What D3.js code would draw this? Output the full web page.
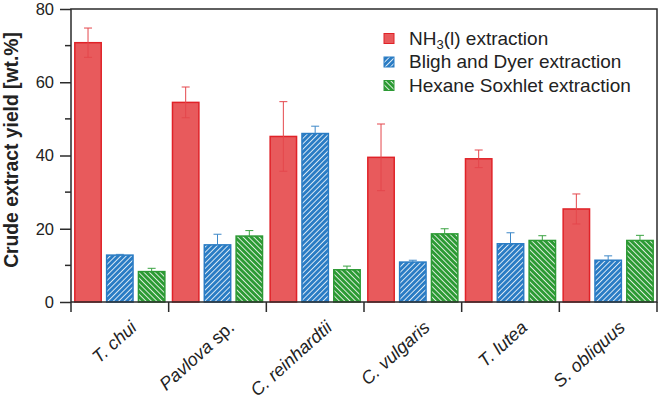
<!DOCTYPE html>
<html>
<head>
<meta charset="utf-8">
<script src="https://cdn.jsdelivr.net/npm/d3@7"></script>
<style>
  body { margin: 0; background: #fff; }
  svg { font-family: "Liberation Sans", Arial, sans-serif; }
</style>
</head>
<body>
<div id="content"></div>
<script>
// species, with the italic part and the plain suffix
const species = ["T. chui", "Pavlova", "C. reinhardtii", "C. vulgaris", "T. lutea", "S. obliquus"];
const speciesSuffix = ["", " sp.", "", "", "", ""];
const methods = ["nh3", "bd", "hex"];

const nh3Vals = [70.8, 54.5, 45.2, 39.5, 39.1, 25.4];
const nh3Err  = [4.0, 4.2, 9.5, 9.1, 2.4, 4.1];
const bdVals  = [12.8, 15.6, 46.0, 10.9, 15.9, 11.4];
const bdErr   = [0.2, 2.9, 2.0, 0.5, 3.0, 1.2];
const hexVals = [8.3, 18.0, 8.8, 18.6, 16.8, 16.8];
const hexErr  = [0.9, 1.5, 1.0, 1.4, 1.3, 1.4];

const yTicks = [0, 20, 40, 60, 80];
const yMinor = [10, 30, 50, 70];

const W = 661, H = 403;
const m = {left: 71, right: 4, top: 9, bottom: 101};

const svg = d3.select("#content").append("svg")
    .attr("width", W).attr("height", H);

const defs = svg.append("defs");
function hatch(id, color, dir){
    const s = 3.8;
    const p = defs.append("pattern")
        .attr("id", id)
        .attr("patternUnits", "userSpaceOnUse")
        .attr("width", s).attr("height", s)
        .attr("patternTransform", "rotate(" + (dir > 0 ? 45 : -45) + ")");
    p.append("rect").attr("width", s).attr("height", s).attr("fill", color);
    p.append("line").attr("x1", 0).attr("y1", 0).attr("x2", 0).attr("y2", s)
        .attr("stroke", "#fff").attr("stroke-width", 1.6);
}
hatch("hbd", "#2a7cc4", 1);
hatch("hhex", "#2c9a34", -1);

const style = {
    nh3: {fill: "#e85a5c", stroke: "#e02228", err: "#e4474c"},
    bd:  {fill: "url(#hbd)", stroke: "#2a7cc4", err: "#3d88c8"},
    hex: {fill: "url(#hhex)", stroke: "#2c9a34", err: "#3aa342"}
};

const x0 = d3.scaleBand().domain(d3.range(species.length))
    .range([m.left, W - m.right]).paddingInner(0).paddingOuter(0);
const x1 = d3.scaleBand().domain(methods)
    .range([0, x0.bandwidth()]).paddingInner(0.17).paddingOuter(0.12);
const y = d3.scaleLinear().domain([0, 80]).range([H - m.bottom, m.top]);

const rows = [];
species.forEach((s, i) => {
    rows.push({i, k: "nh3", v: nh3Vals[i], e: nh3Err[i]});
    rows.push({i, k: "bd", v: bdVals[i], e: bdErr[i]});
    rows.push({i, k: "hex", v: hexVals[i], e: hexErr[i]});
});

// bars
svg.selectAll(".bar").data(rows).enter().append("rect")
    .attr("class", "bar")
    .attr("x", d => x0(d.i) + x1(d.k))
    .attr("width", x1.bandwidth())
    .attr("y", d => y(d.v))
    .attr("height", d => y(0) - y(d.v))
    .attr("fill", d => style[d.k].fill)
    .attr("stroke", d => style[d.k].stroke)
    .attr("stroke-width", 1.5);

// error bars (hatched bars only show the upper half)
const eb = svg.selectAll(".err").data(rows).enter().append("g")
    .attr("class", "err")
    .attr("stroke", d => style[d.k].err)
    .attr("stroke-width", 1)
    .attr("transform", d => "translate(" + (x0(d.i) + x1(d.k) + x1.bandwidth() / 2) + ",0)");
eb.append("line")
    .attr("y1", d => y(d.v + d.e))
    .attr("y2", d => d.k === "nh3" ? y(d.v - d.e) : y(d.v));
eb.append("line").attr("x1", -4).attr("x2", 4)
    .attr("y1", d => y(d.v + d.e)).attr("y2", d => y(d.v + d.e));
eb.filter(d => d.k === "nh3").append("line").attr("x1", -4).attr("x2", 4)
    .attr("y1", d => y(d.v - d.e)).attr("y2", d => y(d.v - d.e));

// frame
const ax = "#2b2b2b";
svg.append("rect")
    .attr("x", m.left).attr("y", m.top)
    .attr("width", W - m.right - m.left).attr("height", y(0) - m.top)
    .attr("fill", "none").attr("stroke", ax).attr("stroke-width", 1.5);

// y axis
const yAxis = svg.append("g").attr("transform", "translate(" + m.left + ",0)")
    .call(d3.axisLeft(y).tickValues(yTicks).tickSize(11).tickPadding(6));
yAxis.select(".domain").remove();
yAxis.selectAll(".tick line").attr("stroke", ax).attr("stroke-width", 1.5);
yAxis.selectAll(".tick text").attr("font-size", 16.5).attr("fill", "#222")
    .attr("font-family", "Liberation Sans, Arial, sans-serif");
svg.append("g").attr("transform", "translate(" + m.left + ",0)")
    .selectAll("line").data(yMinor).enter().append("line")
    .attr("x1", -6).attr("x2", 0)
    .attr("y1", d => y(d)).attr("y2", d => y(d))
    .attr("stroke", ax).attr("stroke-width", 1.5);

// x ticks at group boundaries
const bounds = d3.range(species.length + 1).map(i => m.left + i * x0.step());
svg.append("g").selectAll("line").data(bounds).enter().append("line")
    .attr("x1", d => d).attr("x2", d => d)
    .attr("y1", y(0)).attr("y2", y(0) + 10)
    .attr("stroke", ax).attr("stroke-width", 1.5);

// x labels
const xl = svg.append("g").selectAll("text").data(species).enter().append("text")
    .attr("transform", (d, i) => "translate(" + (x0(i) + x0.bandwidth() / 2 + 18) + "," + (y(0) + 27) + ") rotate(-42)")
    .attr("text-anchor", "end")
    .attr("font-size", 18).attr("fill", "#222");
xl.append("tspan").attr("font-style", "italic").text(d => d);
xl.append("tspan").text((d, i) => speciesSuffix[i]);

// y label
svg.append("text")
    .attr("transform", "translate(18,150) rotate(-90)")
    .attr("text-anchor", "middle")
    .attr("font-size", 19.3).attr("font-weight", "bold").attr("fill", "#222")
    .text("Crude extract yield [wt.%]");

// legend
const legendRows = [
    {k: "nh3", label: ["NH", "3", "(l) extraction"]},
    {k: "bd", label: ["Bligh and Dyer extraction"]},
    {k: "hex", label: ["Hexane Soxhlet extraction"]}
];
const lg = svg.append("g").attr("transform", "translate(384,38.5)");
const li = lg.selectAll("g").data(legendRows).enter().append("g")
    .attr("transform", (d, i) => "translate(0," + i * 23.5 + ")");
li.append("rect").attr("x", 0).attr("y", -5).attr("width", 10).attr("height", 10)
    .attr("fill", d => style[d.k].fill)
    .attr("stroke", d => style[d.k].stroke).attr("stroke-width", 1);
const lt = li.append("text").attr("x", 25).attr("y", 6)
    .attr("font-size", 19).attr("fill", "#222");
lt.each(function(d){
    const t = d3.select(this);
    if (d.label.length === 1) { t.text(d.label[0]); return; }
    t.append("tspan").text(d.label[0]);
    t.append("tspan").attr("font-size", 13).attr("dy", 4).text(d.label[1]);
    t.append("tspan").attr("dy", -4).text(d.label[2]);
});
</script>
</body>
</html>
